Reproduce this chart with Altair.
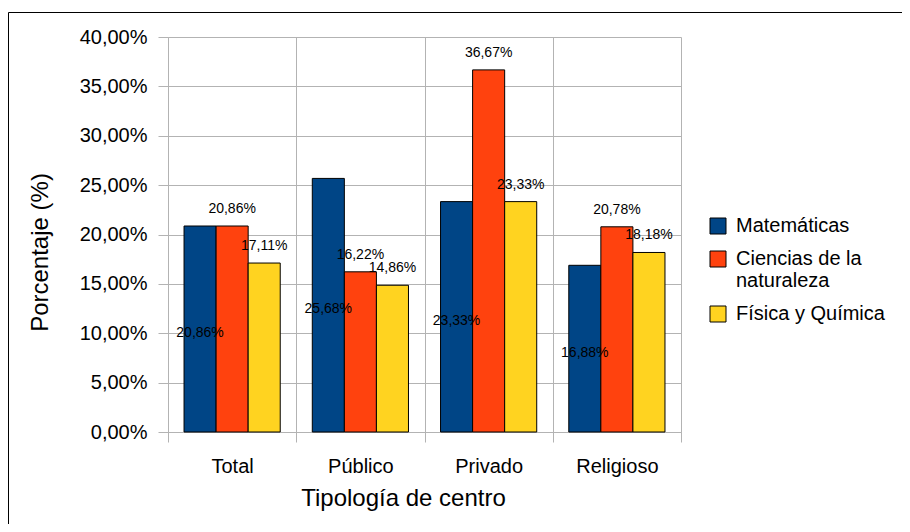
import altair as alt
import pandas as pd

categories = ["Total", "Público", "Privado", "Religioso"]
series = ["Matemáticas", "Ciencias de la naturaleza", "Física y Química"]
matematicas = [20.86, 25.68, 23.33, 16.88]
ciencias = [20.86, 16.22, 36.67, 20.78]
fisica = [17.11, 14.86, 23.33, 18.18]
colors = ["#004586", "#ff420e", "#ffd320"]
y_ticks = [0, 5, 10, 15, 20, 25, 30, 35, 40]

rows = []
for s, vals in zip(series, [matematicas, ciencias, fisica]):
    for c, v in zip(categories, vals):
        rows.append({"cat": c, "serie": s, "valor": v})
df = pd.DataFrame(rows)

FONT = "Liberation Sans"
GRID = "#b3b3b3"

base = alt.Chart(df).transform_calculate(
    etiqueta="replace(format(datum.valor, '.2f'), '.', ',') + '%'"
)

x_enc = alt.X(
    "cat:N",
    sort=categories,
    scale=alt.Scale(domain=categories, paddingInner=0, paddingOuter=0),
    axis=alt.Axis(
        title="Tipología de centro",
        tickBand="extent",
        labelAngle=0,
        labelFontSize=20,
        labelPadding=14,
        tickSize=10,
        titleFontSize=24,
        titleX=235,
        titleY=73,
        titleBaseline="alphabetic",
        titleAlign="center",
        grid=True,
    ),
)
xo_enc = alt.XOffset(
    "serie:N",
    sort=series,
    scale=alt.Scale(domain=series, paddingInner=0, paddingOuter=0.5),
)
y_enc = alt.Y(
    "valor:Q",
    scale=alt.Scale(domain=[0, 40], nice=False),
    axis=alt.Axis(
        title="Porcentaje (%)",
        values=y_ticks,
        labelExpr="replace(format(datum.value, '.2f'), '.', ',') + '%'",
        labelFontSize=20,
        labelPadding=11,
        tickSize=10,
        titleFontSize=24,
        titleX=-121,
        titleY=215,
        titleAngle=270,
        titleBaseline="alphabetic",
        titleAlign="center",
        grid=True,
    ),
)
color_enc = alt.Color(
    "serie:N",
    sort=series,
    scale=alt.Scale(domain=series, range=colors),
    legend=alt.Legend(
        title=None,
        orient="none",
        legendX=540,
        legendY=179,
        symbolType="square",
        symbolSize=256,
        symbolStrokeColor="black",
        symbolStrokeWidth=1,
        symbolOpacity=1,
        labelFontSize=20,
        labelFont=FONT,
        labelColor="black",
        labelOffset=8,
        rowPadding=13,
        labelExpr="datum.label == 'Ciencias de la naturaleza' ? ['Ciencias de la', 'naturaleza'] : datum.label",
    ),
)

bars = base.mark_bar(stroke="black", strokeWidth=1).encode(
    x=x_enc, xOffset=xo_enc, y=y_enc, color=color_enc
)

lab_mid = (
    base.transform_filter("datum.serie == 'Matemáticas'")
    .transform_calculate(mitad="datum.valor / 2")
    .mark_text(fontSize=14, font=FONT, baseline="middle", dy=4, color="black")
    .encode(
        x=alt.X("cat:N", sort=categories),
        xOffset=alt.XOffset("serie:N", sort=series),
        y=alt.Y("mitad:Q"),
        text="etiqueta:N",
    )
)

lab_top = (
    base.transform_filter("datum.serie != 'Matemáticas'")
    .mark_text(fontSize=14, font=FONT, baseline="middle", dy=-17, color="black")
    .encode(
        x=alt.X("cat:N", sort=categories),
        xOffset=alt.XOffset("serie:N", sort=series),
        y=alt.Y("valor:Q"),
        text="etiqueta:N",
    )
)

frame = (
    alt.Chart(pd.DataFrame({"k": [0]}))
    .mark_rect(filled=False, stroke="black", strokeWidth=1, clip=False)
    .encode(
        x=alt.value(-159.5), x2=alt.value(800), y=alt.value(-24.5), y2=alt.value(700)
    )
)

chart = (
    alt.layer(frame, bars, lab_mid, lab_top)
    .properties(
        width=513,
        height=395,
        autosize=alt.AutoSizeParams(type="none"),
        padding={"left": 160, "top": 29, "right": 221, "bottom": 92},
        background="white",
    )
    .configure_axis(
        labelFont=FONT,
        titleFont=FONT,
        titleFontWeight="normal",
        labelColor="black",
        titleColor="black",
        gridColor=GRID,
        domainColor=GRID,
        tickColor=GRID,
        gridOpacity=1,
    )
    .configure_view(stroke=None)
)

chart.save("out.html", embed_options={"renderer": "svg", "actions": False})
